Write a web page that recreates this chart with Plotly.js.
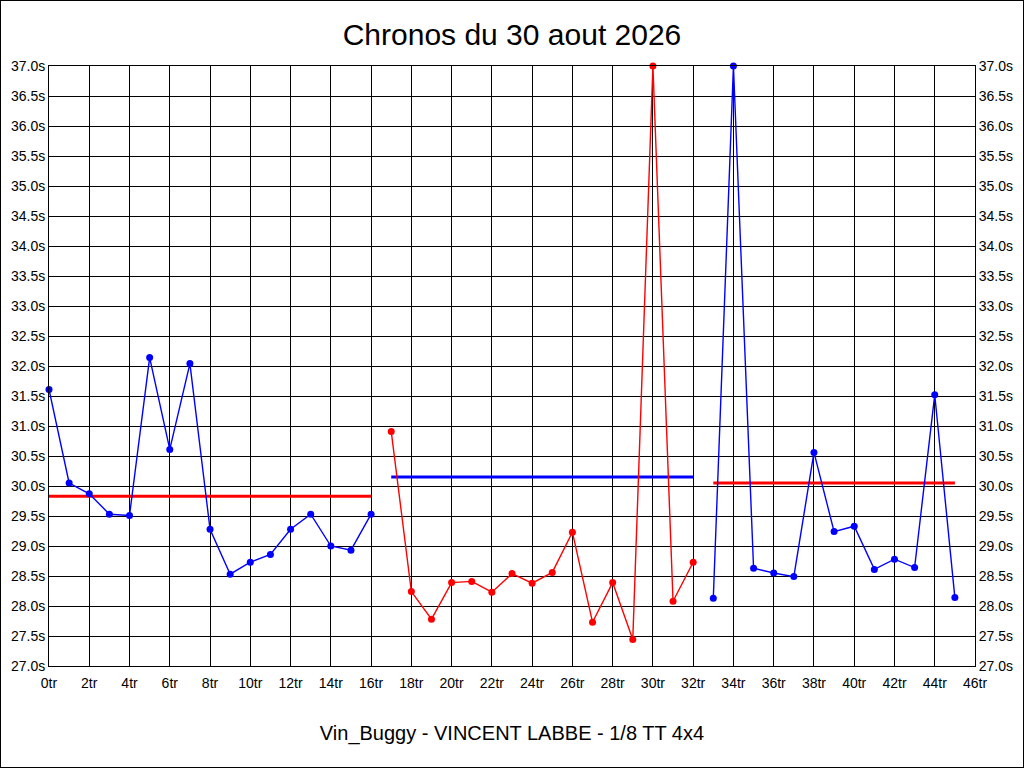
<!DOCTYPE html>
<html>
<head>
<meta charset="utf-8">
<script src="https://cdn.plot.ly/plotly-3.0.1.min.js"></script>
<style>
  body { margin: 0; background: #fff; }
  #chart { width: 1022px; height: 766px; border: 1px solid #000; }
</style>
</head>
<body>
<div id="chart"></div>
<script>
// tours et chronos (secondes)
var tours = [0, 1, 2, 3, 4, 5, 6, 7, 8, 9, 10, 11, 12, 13, 14, 15, 16,
             17, 18, 19, 20, 21, 22, 23, 24, 25, 26, 27, 28, 29, 30, 31, 32,
             33, 34, 35, 36, 37, 38, 39, 40, 41, 42, 43, 44, 45];
var chronos = [31.61, 30.05, 29.87, 29.53, 29.51, 32.14, 30.61, 32.04, 29.28, 28.53, 28.73, 28.86, 29.28, 29.53, 29.00, 28.93, 29.53,
               30.91, 28.24, 27.78, 28.39, 28.41, 28.23, 28.54, 28.38, 28.56, 29.23, 27.73, 28.39, 27.44, 37.00, 28.08, 28.73,
               28.13, 37.00, 28.63, 28.55, 28.49, 30.56, 29.24, 29.33, 28.61, 28.78, 28.64, 31.52, 28.14];

// debut / fin de chaque serie et moyenne de la serie
var serieDebut = [0, 17, 33];
var serieFin = [16, 32, 45];
var moyennes = [29.83, 30.15, 30.05];

var couleurs = ['#0000ff', '#ff0000', '#0000ff'];
var couleursMoy = ['#ff0000', '#0000ff', '#ff0000'];

var police = 'Liberation Sans, Arial, sans-serif';

var data = [];

serieDebut.forEach(function(deb, i){
	var fin = serieFin[i];
	var x = tours.slice(deb, fin + 1);
	var y = chronos.slice(deb, fin + 1);

	// ligne de moyenne
	data.push({
		x: [tours[deb], tours[fin]],
		y: [moyennes[i], moyennes[i]],
		type: 'scatter',
		mode: 'lines',
		line: {color: couleursMoy[i], width: 3},
		hoverinfo: 'skip'
	});

	data.push({
		x: x,
		y: y,
		type: 'scatter',
		mode: 'lines+markers',
		line: {color: couleurs[i], width: 1.4},
		marker: {color: couleurs[i], size: 7},
		cliponaxis: false
	});
});

// trace invisible pour l'axe de droite
data.push({
	x: [0], y: [27], yaxis: 'y2', type: 'scatter', mode: 'markers',
	marker: {opacity: 0}, hoverinfo: 'skip'
});

var axeY = {
	range: [27, 37],
	dtick: 0.5,
	tick0: 27,
	tickformat: '.1f',
	ticksuffix: 's',
	showgrid: true,
	gridcolor: '#000',
	gridwidth: 1,
	zeroline: false,
	showline: true,
	linecolor: '#000',
	linewidth: 1,
	ticks: '',
	tickfont: {family: police, size: 14, color: '#000'},
	fixedrange: true
};

var axeY2 = Object.assign({}, axeY, {
	overlaying: 'y',
	side: 'right',
	showgrid: false
});

var layout = {
	width: 1022,
	height: 766,
	margin: {l: 48, r: 48, t: 65, b: 101},
	paper_bgcolor: '#fff',
	plot_bgcolor: '#fff',
	showlegend: false,
	title: {
		text: 'Chronos du 30 aout 2026',
		font: {family: police, size: 30, color: '#000'},
		x: 0.5,
		xanchor: 'center',
		yref: 'container',
		y: 1 - 33 / 766,
		yanchor: 'middle'
	},
	xaxis: {
		range: [0, 46],
		dtick: 2,
		tick0: 0,
		ticksuffix: 'tr',
		showgrid: true,
		gridcolor: '#000',
		gridwidth: 1,
		zeroline: false,
		showline: true,
		mirror: true,
		linecolor: '#000',
		linewidth: 1,
		ticks: '',
		ticklabelstandoff: 4,
		tickfont: {family: police, size: 14, color: '#000'},
		title: {
			text: 'Vin_Buggy - VINCENT LABBE - 1/8 TT 4x4',
			font: {family: police, size: 20, color: '#000'},
			standoff: 36
		},
		automargin: false,
		fixedrange: true
	},
	yaxis: Object.assign({}, axeY, {mirror: true}),
	yaxis2: axeY2
};

Plotly.newPlot('chart', data, layout, {staticPlot: true});
</script>
</body>
</html>
